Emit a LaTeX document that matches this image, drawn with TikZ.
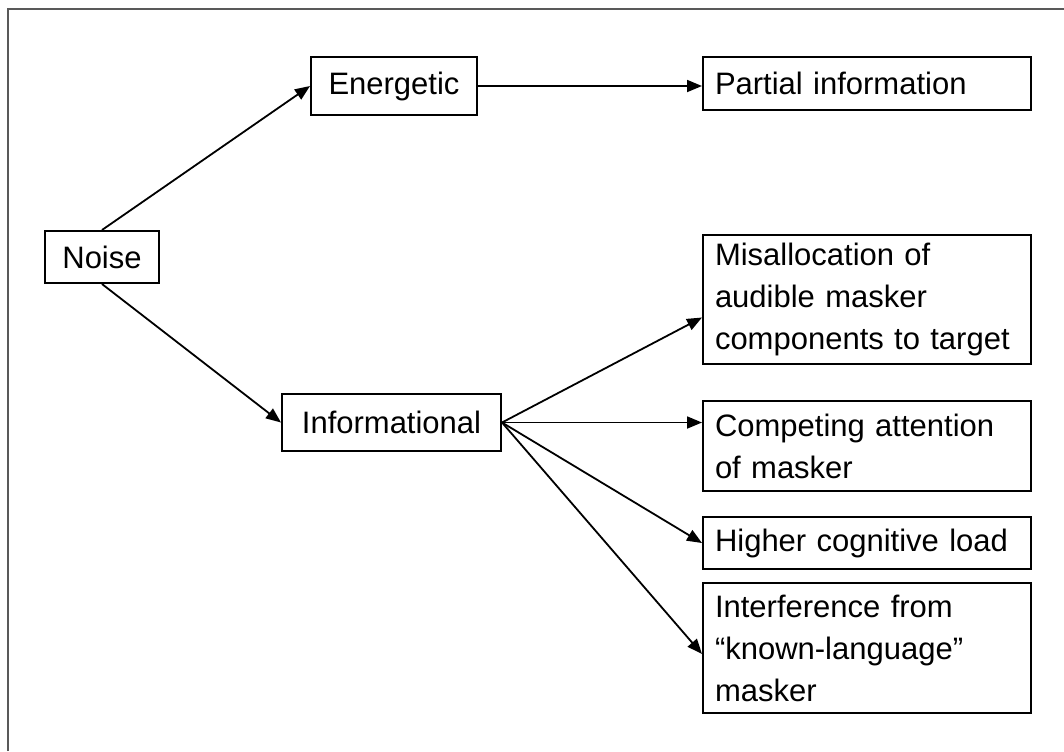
\documentclass[tikz,border=0pt]{standalone}
\usepackage{fontspec}
\setmainfont{Liberation Sans}
\usetikzlibrary{arrows.meta}

\begin{document}
\begin{tikzpicture}[x=0.5pt, y=-0.5pt]
        \tikzstyle{box} = [draw, rectangle, line width=1pt, inner sep=0pt, font=\fontsize{15.5}{21}\selectfont]
        \tikzstyle{wide box} = [box, text width=152pt, inner xsep=6pt, align=left]
        \tikzstyle{edge} = [-{Triangle[length=7.5pt, width=6pt]}, line width=0.9pt]

        \useasboundingbox (0,0) rectangle (1064,751);
        \draw[black!65, line width=0.9pt] (8,751) -- (8,9) -- (1064,9);

        \node[box, minimum width=57pt, minimum height=26pt](noise) at(102, 257) {Noise};
        \node[box, minimum width=83pt, minimum height=29pt](energetic) at(394, 86) {Energetic};
        \node[box, minimum width=109.5pt, minimum height=28.5pt](informational) at(391.5, 422.5) {Informational};

        \node[wide box, minimum height=26.5pt](partial) at(867, 83.5) {Partial information};
        \node[wide box, minimum height=64.5pt](misallocation) at(867, 299.5) {Misallocation of\\audible masker\\components to target};
        \node[wide box, minimum height=45pt](competing) at(867, 446) {Competing attention\\of masker};
        \node[wide box, minimum height=26pt](cognitive) at(867, 543) {Higher cognitive load};
        \node[wide box, minimum height=65pt](interference) at(867, 648) {Interference from\\“known-language”\\masker};

        \draw[edge] (noise.north) -- (energetic.west);
        \draw[edge] (noise.south) -- (informational.west);
        \draw[edge] (energetic.east) -- (energetic.east -| partial.west);
        \draw[edge] (informational.east) -- ([yshift=-9pt]misallocation.west);
        \draw[edge] (informational.east) -- (informational.east -| competing.west);
        \draw[edge] (informational.east) -- (cognitive.west);
        \draw[edge] (informational.east) -- ([yshift=-3pt]interference.west);
    \end{tikzpicture}
\end{document}
